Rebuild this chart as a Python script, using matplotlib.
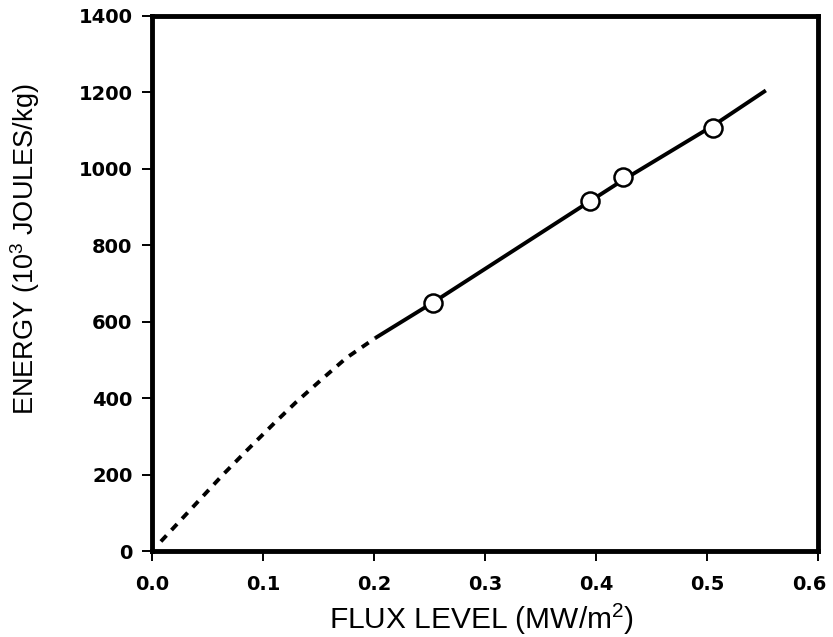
import numpy as np
import matplotlib.pyplot as plt
import matplotlib.transforms as mtransforms

plt.rcParams['font.family'] = ['Liberation Sans', 'DejaVu Sans']
plt.rcParams['mathtext.default'] = 'regular'

# measured points (open circles)
flux_pts = [0.253, 0.395, 0.424, 0.505]
energy_pts = [648, 917, 978, 1108]

# solid fitted line
flux_solid = [0.201, 0.253, 0.395, 0.424, 0.505, 0.553]
energy_solid = [557, 650, 916, 970, 1112, 1205]

# dashed extrapolation to origin
flux_dash = [0.008, 0.04, 0.064, 0.085, 0.111, 0.13, 0.154, 0.175, 0.201]
energy_dash = [25, 125, 200, 262, 337, 390, 452, 505, 557]

xticks = [0.0, 0.1, 0.2, 0.3, 0.4, 0.5, 0.6]
yticks = [0, 200, 400, 600, 800, 1000, 1200, 1400]

fig = plt.figure(figsize=(8.33, 6.37), dpi=100)
ax = fig.add_axes([0.1825, 0.135, 0.7995, 0.84])

ax.plot(flux_dash, energy_dash, color='black', lw=2.8, linestyle=(0, (2.1, 1.9)))
ax.plot(flux_solid, energy_solid, color='black', lw=2.8, solid_capstyle='butt')
ax.plot(flux_pts, energy_pts, 'o', ms=13, mfc='white', mec='black', mew=1.8)

ax.set_xlim(0, 0.6)
ax.set_ylim(0, 1400)
ax.set_xticks(xticks)
ax.set_xticklabels([f"{t:.1f}" for t in xticks])
ax.set_yticks(yticks)

for s in ax.spines.values():
    s.set_linewidth(3.5)
ax.tick_params(direction='out', length=7, width=1.4)
ax.tick_params(axis='x', pad=10)
ax.tick_params(axis='y', pad=7)
for lab in ax.get_xticklabels() + ax.get_yticklabels():
    lab.set_fontfamily('DejaVu Sans')
    lab.set_fontweight('bold')
    lab.set_fontsize(14)

# last x label sits at the right edge of the figure; nudge it inside
last = ax.get_xticklabels()[-1]
last.set_transform(last.get_transform() +
                   mtransforms.ScaledTranslation(-6 / 72, 0, fig.dpi_scale_trans))

ax.set_xlabel("FLUX LEVEL (MW/m$^2$)", fontsize=21.5)
ax.xaxis.set_label_coords(0.495, -0.095)
ax.set_ylabel("ENERGY (10$^3$ JOULES/kg)", fontsize=19.5)
ax.yaxis.set_label_coords(-0.165, 0.563)

plt.savefig("out.png", dpi=100)
plt.close()
